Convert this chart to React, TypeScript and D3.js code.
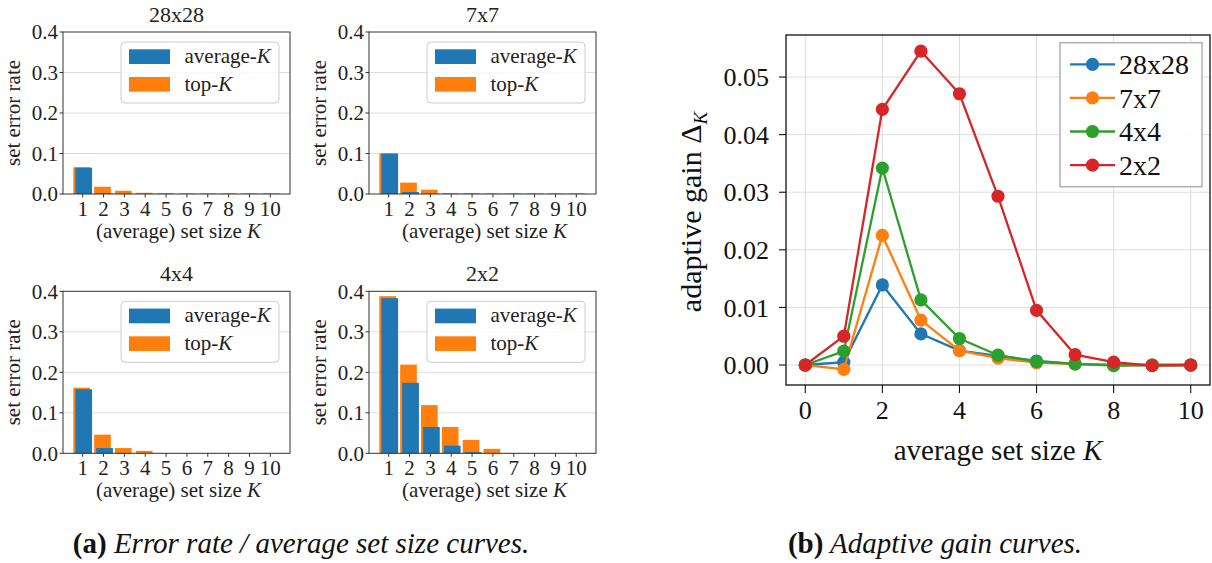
import React from "react";
import * as d3 from "d3";

// ---------- data ----------
const setSizes = [1, 2, 3, 4, 5, 6, 7, 8, 9, 10];
const panelTitles = ["28x28", "7x7", "4x4", "2x2"];
const avgK_28 = [0.065, 0.0015, 0.0006, 0.0004, 0.0003, 0.0008, 0.0008, 0.0008, 0.0008, 0.0008];
const topK_28 = [0.066, 0.018, 0.008, 0.003, 0.002, 0.0008, 0.0008, 0.0008, 0.0008, 0.0008];
const avgK_7 = [0.1, 0.005, 0.0008, 0.0005, 0.0005, 0.0008, 0.0008, 0.0008, 0.0008, 0.0008];
const topK_7 = [0.1, 0.028, 0.0105, 0.002, 0.002, 0.0008, 0.0008, 0.0008, 0.0008, 0.0008];
const avgK_4 = [0.158, 0.013, 0.0005, 0.0003, 0.0002, 0.0002, 0.0001, 0.0001, 0.0001, 0.0001];
const topK_4 = [0.162, 0.046, 0.013, 0.006, 0.0005, 0.0003, 0.0002, 0.0001, 0.0001, 0.0001];
const avgK_2 = [0.383, 0.174, 0.065, 0.019, 0.003, 0.0005, 0.0002, 0.0001, 0.0001, 0.0001];
const topK_2 = [0.388, 0.219, 0.119, 0.065, 0.033, 0.011, 0.0005, 0.0002, 0.0001, 0.0001];
const errorTicks = [0.0, 0.1, 0.2, 0.3, 0.4];

const gainK = [0, 1, 2, 3, 4, 5, 6, 7, 8, 9, 10];
const gainSeriesNames = ["28x28", "7x7", "4x4", "2x2"];
const gain_28 = [0, 0.0005, 0.0139, 0.0054, 0.0025, 0.0016, 0.0007, 0.0002, 0.0, 0.0, 0.0];
const gain_7 = [0, -0.00075, 0.0225, 0.0078, 0.0025, 0.0012, 0.0004, 0.0002, 0.0, 0.0, 0.0];
const gain_4 = [0, 0.0024, 0.0342, 0.0113, 0.0046, 0.0017, 0.0006, 0.0002, -0.0001, 0.0, 0.0];
const gain_2 = [0, 0.005, 0.0444, 0.0545, 0.0471, 0.0293, 0.0095, 0.0018, 0.0005, -0.0001, 0.0];
const gainXTicks = [0, 2, 4, 6, 8, 10];
const gainYTicks = [0, 0.01, 0.02, 0.03, 0.04, 0.05];

const BLUE = "#1f77b4";
const ORANGE = "#ff7f0e";
const GREEN = "#2ca02c";
const RED = "#d62728";
const FONT = '"Liberation Serif", "DejaVu Serif", serif';
const serif = { fontFamily: FONT };

const barPanels = [
  { title: panelTitles[0], avg: avgK_28, top: topK_28, x: 63, y: 32 },
  { title: panelTitles[1], avg: avgK_7, top: topK_7, x: 369, y: 32 },
  { title: panelTitles[2], avg: avgK_4, top: topK_4, x: 63, y: 291.3 },
  { title: panelTitles[3], avg: avgK_2, top: topK_2, x: 369, y: 291.3 },
];

const gainSeries = [
  { name: gainSeriesNames[0], values: gain_28, color: BLUE },
  { name: gainSeriesNames[1], values: gain_7, color: ORANGE },
  { name: gainSeriesNames[2], values: gain_4, color: GREEN },
  { name: gainSeriesNames[3], values: gain_2, color: RED },
];

function BarPanel({ p }: { p: any }) {
  const W = 227;
  const H = 162;
  const x = d3.scaleLinear().domain([0.055, 10.945]).range([0, W]);
  const y = d3.scaleLinear().domain([0, 0.4]).range([H, 0]);
  const bw = x(0.8) - x(0);
  const fs = 20;
  return (
    <g transform={`translate(${p.x},${p.y})`} style={serif}>
      {errorTicks.slice(1, 4).map((t) => (
        <line key={t} x1={0} x2={W} y1={y(t)} y2={y(t)} stroke="#dedede" strokeWidth={1} />
      ))}
      {p.top.map((v: number, i: number) => (
        <rect key={"t" + i} x={x(setSizes[i] - 0.05) - bw / 2} y={y(v)} width={bw} height={y(0) - y(v)} fill={ORANGE} />
      ))}
      {p.avg.map((v: number, i: number) => (
        <rect key={"a" + i} x={x(setSizes[i] + 0.05) - bw / 2} y={y(v)} width={bw} height={y(0) - y(v)} fill={BLUE} />
      ))}
      <rect x={0} y={0} width={W} height={H} fill="none" stroke="#333" strokeWidth={1} />
      {errorTicks.map((t) => (
        <g key={t}>
          <line x1={-3.5} x2={0} y1={y(t)} y2={y(t)} stroke="#333" strokeWidth={1} />
          <text x={-5} y={y(t)} dy="0.35em" textAnchor="end" fontSize={fs + 1} fill="#222" style={serif}>
            {t.toFixed(1)}
          </text>
        </g>
      ))}
      {setSizes.map((k) => (
        <g key={k}>
          <line x1={x(k)} x2={x(k)} y1={H} y2={H + 3.5} stroke="#333" strokeWidth={1} />
          <text x={x(k)} y={H + 22} textAnchor="middle" fontSize={fs + 1} fill="#222" style={serif}>
            {k}
          </text>
        </g>
      ))}
      <text x={W / 2 + 2} y={H + 44} textAnchor="middle" fontSize={fs + 1} fill="#222" style={serif}>
        (average) set size <tspan fontStyle="italic">K</tspan>
      </text>
      <text transform={`translate(${-43},${H / 2}) rotate(-90)`} textAnchor="middle" fontSize={fs + 1} fill="#222" style={serif}>
        set error rate
      </text>
      <text x={W / 2} y={-10} textAnchor="middle" fontSize={fs + 2} fill="#222" style={serif}>
        {p.title}
      </text>
      {/* legend */}
      <g transform="translate(58,10)">
        <rect x={0} y={0} width={158} height={61} rx={4} fill="white" fillOpacity={0.8} stroke="#cccccc" strokeWidth={1} />
        <rect x={8} y={7.3} width={41} height={14.7} fill={BLUE} />
        <rect x={8} y={35} width={41} height={14.7} fill={ORANGE} />
        <text x={63.5} y={20.7} fontSize={fs + 1} fill="#222" style={serif}>
          average-<tspan fontStyle="italic">K</tspan>
        </text>
        <text x={63.5} y={48.7} fontSize={fs + 1} fill="#222" style={serif}>
          top-<tspan fontStyle="italic">K</tspan>
        </text>
      </g>
    </g>
  );
}

function GainChart() {
  const L = 786, R = 1210, T = 35, B = 385;
  const x = d3.scaleLinear().domain([-0.5, 10.5]).range([L, R]);
  const y = d3.scaleLinear().domain([-0.00347, 0.0573]).range([B, T]);
  const line = d3
    .line<number>()
    .x((_, i) => x(gainK[i]))
    .y((d) => y(d));
  const fs = 26;
  return (
    <g style={serif}>
      {gainXTicks.map((t) => (
        <line key={"gx" + t} x1={x(t)} x2={x(t)} y1={T} y2={B} stroke="#dddddd" strokeWidth={1} />
      ))}
      {gainYTicks.map((t) => (
        <line key={"gy" + t} x1={L} x2={R} y1={y(t)} y2={y(t)} stroke="#dddddd" strokeWidth={1} />
      ))}
      {gainSeries.map((s) => (
        <g key={s.name}>
          <path d={line(s.values) || ""} fill="none" stroke={s.color} strokeWidth={2.3} />
          {s.values.map((v, i) => (
            <circle key={i} cx={x(gainK[i])} cy={y(v)} r={6.6} fill={s.color} />
          ))}
        </g>
      ))}
      <rect x={L} y={T} width={R - L} height={B - T} fill="none" stroke="#111" strokeWidth={1.3} />
      {gainXTicks.map((t) => (
        <g key={"xt" + t}>
          <line x1={x(t)} x2={x(t)} y1={B} y2={B + 8} stroke="#111" strokeWidth={1.1} />
          <text x={x(t)} y={B + 34} textAnchor="middle" fontSize={fs} fill="#111" style={serif}>
            {t}
          </text>
        </g>
      ))}
      {gainYTicks.map((t) => (
        <g key={"yt" + t}>
          <line x1={L - 7} x2={L} y1={y(t)} y2={y(t)} stroke="#111" strokeWidth={1.1} />
          <text x={L - 17} y={y(t)} dy="0.35em" textAnchor="end" fontSize={fs} fill="#111" style={serif}>
            {t.toFixed(2)}
          </text>
        </g>
      ))}
      <text x={(L + R) / 2} y={B + 75} textAnchor="middle" fontSize={fs + 3} fill="#111" style={serif}>
        average set size <tspan fontStyle="italic">K</tspan>
      </text>
      <text transform={`translate(${701},${(T + B) / 2 + 2}) rotate(-90)`} textAnchor="middle" fontSize={fs + 4} fill="#111" style={serif}>
        adaptive gain Δ
        <tspan fontStyle="italic" fontSize={19} dy={6}>K</tspan>
      </text>
      {/* legend */}
      <g transform="translate(1060,42.7)">
        <rect x={0} y={0} width={142} height={144} fill="white" fillOpacity={0.9} stroke="#b0b0b0" strokeWidth={1.5} />
        {gainSeries.map((s, i) => (
          <g key={s.name} transform={`translate(0,${21.6 + i * 33.6})`}>
            <line x1={10} x2={55} y1={0} y2={0} stroke={s.color} strokeWidth={2.3} />
            <circle cx={32.5} cy={0} r={6.6} fill={s.color} />
            <text x={59} y={0} dy="0.35em" fontSize={fs + 2} fill="#111" style={serif}>
              {s.name}
            </text>
          </g>
        ))}
      </g>
    </g>
  );
}

export default function App() {
  return (
    <svg
      width={1212}
      height={563}
      style={{ position: "fixed", left: 0, top: 0, background: "white" }}
    >
      <rect x={0} y={0} width={1212} height={563} fill="white" />
      {barPanels.map((p) => (
        <BarPanel key={p.title} p={p} />
      ))}
      <GainChart />
      <text x={301} y={553} textAnchor="middle" fontSize={29} fill="#111" style={serif}>
        <tspan fontWeight="bold">(a)</tspan>
        <tspan fontStyle="italic"> Error rate / average set size curves.</tspan>
      </text>
      <text x={935} y={553} textAnchor="middle" fontSize={29} fill="#111" style={serif}>
        <tspan fontWeight="bold">(b)</tspan>
        <tspan fontStyle="italic"> Adaptive gain curves.</tspan>
      </text>
    </svg>
  );
}
